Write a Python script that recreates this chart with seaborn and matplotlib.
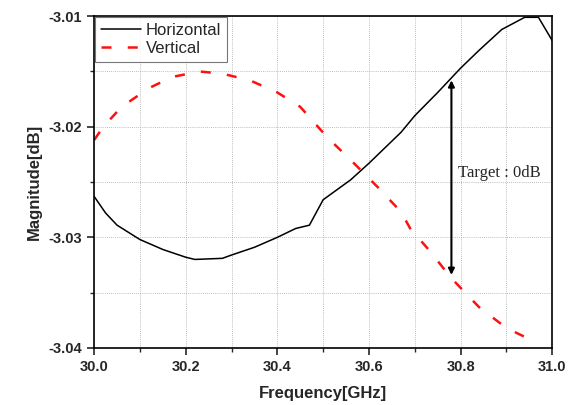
import pandas as pd
import seaborn as sns
import matplotlib.pyplot as plt
from matplotlib.ticker import MultipleLocator

# Data
freq_h = [30.00, 30.025, 30.05, 30.10, 30.15, 30.20, 30.22, 30.28, 30.30, 30.35,
          30.40, 30.44, 30.47, 30.50, 30.52, 30.56, 30.60, 30.67, 30.70, 30.75,
          30.80, 30.84, 30.89, 30.94, 30.97, 31.00]
mag_h = [-3.0263, -3.0278, -3.0289, -3.0302, -3.0311, -3.0318, -3.0320, -3.0319,
         -3.0316, -3.0309, -3.0300, -3.0292, -3.0289, -3.0266, -3.0260, -3.0248,
         -3.0233, -3.0205, -3.0190, -3.0169, -3.0147, -3.0131, -3.0112, -3.0101,
         -3.0101, -3.0122]

freq_v = [30.00, 30.02, 30.06, 30.12, 30.17, 30.23, 30.28, 30.34, 30.40, 30.45,
          30.51, 30.56, 30.62, 30.67, 30.69, 30.73, 30.78, 30.84, 30.90, 30.96]
mag_v = [-3.0212, -3.0200, -3.0182, -3.0165, -3.0155, -3.0150, -3.0152, -3.0158,
         -3.0169, -3.0182, -3.0210, -3.0230, -3.0255, -3.0277, -3.0292, -3.0311,
         -3.0337, -3.0363, -3.0382, -3.0394]

df = pd.concat([
    pd.DataFrame({"freq": freq_h, "mag": mag_h, "pol": "Horizontal"}),
    pd.DataFrame({"freq": freq_v, "mag": mag_v, "pol": "Vertical"}),
])

sns.set_theme(style="ticks")
plt.rcParams["font.family"] = ["Liberation Sans", "DejaVu Sans"]

fig, ax = plt.subplots(figsize=(5.74, 4.05), dpi=100)
fig.subplots_adjust(left=0.164, right=0.962, top=0.960, bottom=0.141)

sns.lineplot(data=df, x="freq", y="mag", hue="pol", style="pol",
             palette={"Horizontal": "black", "Vertical": "#ff1010"},
             dashes={"Horizontal": "", "Vertical": (4, 6.5)},
             size="pol", sizes={"Horizontal": 1.1, "Vertical": 1.8},
             ax=ax, sort=False)

ax.set_xlim(30.0, 31.0)
ax.set_ylim(-3.04, -3.01)
ax.xaxis.set_major_locator(MultipleLocator(0.2))
ax.xaxis.set_minor_locator(MultipleLocator(0.1))
ax.yaxis.set_major_locator(MultipleLocator(0.01))
ax.yaxis.set_minor_locator(MultipleLocator(0.005))
ax.xaxis.set_major_formatter(plt.FormatStrFormatter("%.1f"))
ax.yaxis.set_major_formatter(plt.FormatStrFormatter("%.2f"))

ax.grid(True, which="both", linestyle=(0, (1, 1.5)), linewidth=0.6, color="#a8a8a8")
for s in ax.spines.values():
    s.set_visible(True)
    s.set_color("black")
    s.set_linewidth(1.2)

ax.tick_params(which="major", direction="out", length=5, width=1.2,
               labelsize=10.5)
ax.tick_params(which="minor", direction="out", length=3, width=1.0)
for lab in ax.get_xticklabels() + ax.get_yticklabels():
    lab.set_fontweight("bold")

ax.set_xlabel("Frequency[GHz]", fontsize=12, fontweight="bold", labelpad=9)
ax.set_ylabel("Magnitude[dB]", fontsize=12, fontweight="bold", labelpad=5)

# Target arrow
ax.annotate("", xy=(30.78, -3.0158), xytext=(30.78, -3.0334),
            arrowprops=dict(arrowstyle="<|-|>", color="black", lw=1.5,
                            mutation_scale=9, shrinkA=0, shrinkB=0))
ax.text(30.795, -3.0242, "Target : 0dB", family="Liberation Serif",
        fontsize=12, va="center", ha="left")

leg = ax.legend(loc="upper left", fontsize=12, frameon=True, fancybox=False,
                borderaxespad=0.05, handlelength=2.4, handletextpad=0.3,
                borderpad=0.35, labelspacing=0.2)
leg.get_frame().set_edgecolor("#555555")
leg.get_frame().set_linewidth(0.8)

plt.savefig("out.png", dpi=100)
